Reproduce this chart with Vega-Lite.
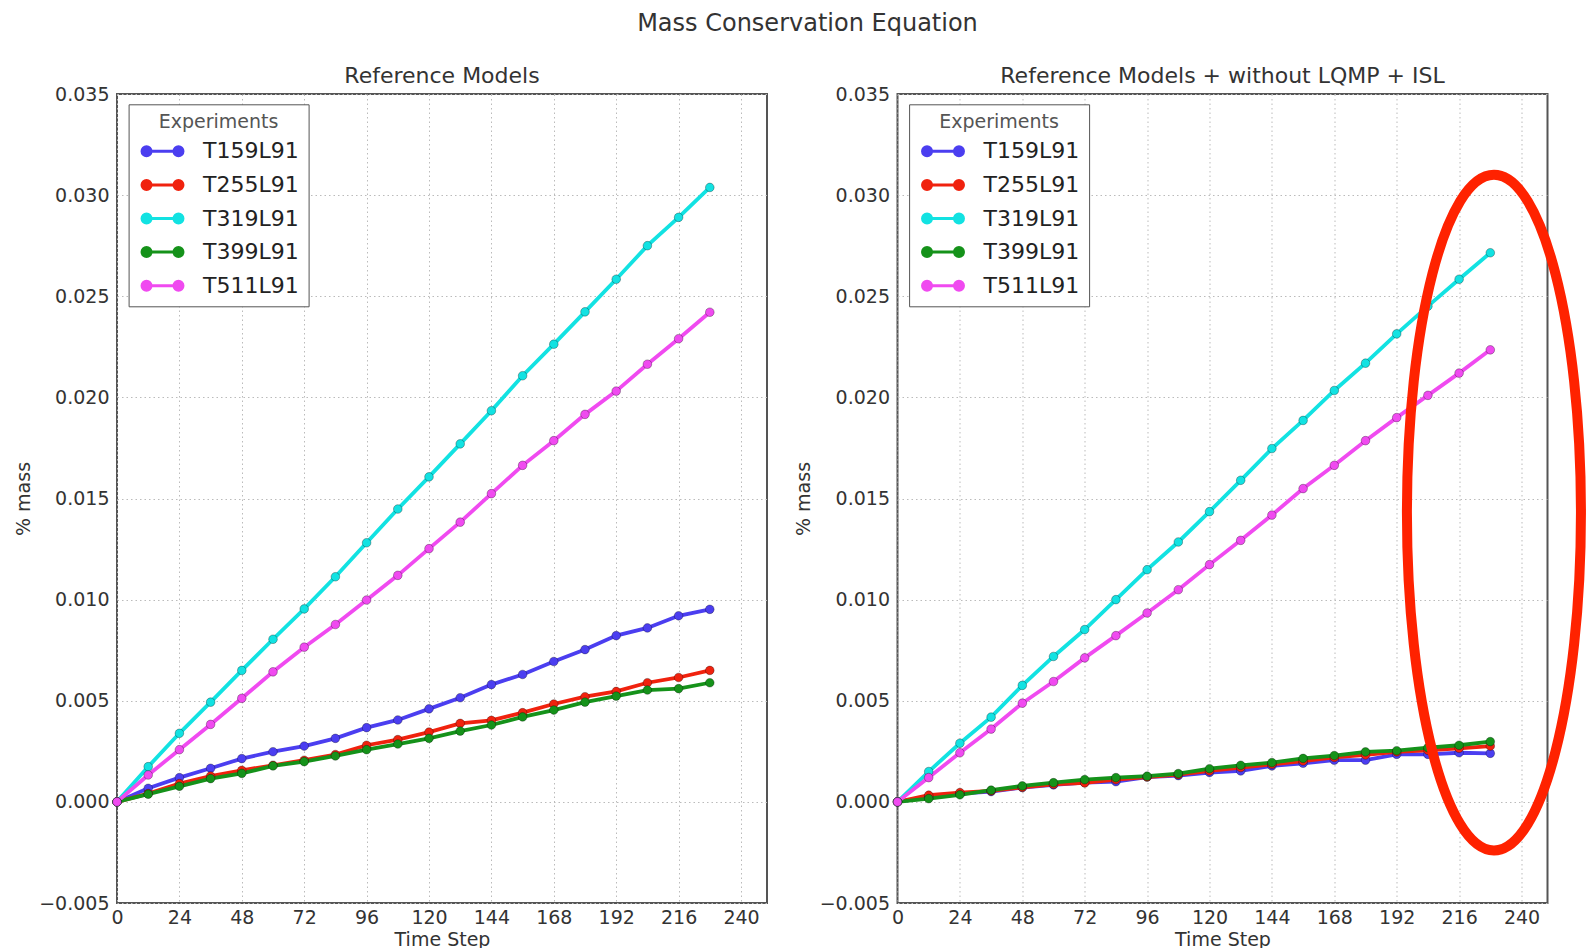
{
  "$schema": "https://vega.github.io/schema/vega-lite/v6.json",
  "background": "white",
  "padding": {"left": 13, "top": 12, "right": 0, "bottom": 0},
  "title": {"text": "Mass Conservation Equation", "fontSize": 24, "anchor": "middle", "offset": 28},
  "datasets": {
    "series": [
      {"panel":"A","exp":"T159L91","step":0,"mass":0},{"panel":"A","exp":"T159L91","step":12,"mass":0.00067},{"panel":"A","exp":"T159L91","step":24,"mass":0.0012},{"panel":"A","exp":"T159L91","step":36,"mass":0.00166},{"panel":"A","exp":"T159L91","step":48,"mass":0.00214},{"panel":"A","exp":"T159L91","step":60,"mass":0.00248},{"panel":"A","exp":"T159L91","step":72,"mass":0.00276},{"panel":"A","exp":"T159L91","step":84,"mass":0.00314},{"panel":"A","exp":"T159L91","step":96,"mass":0.00367},{"panel":"A","exp":"T159L91","step":108,"mass":0.00405},{"panel":"A","exp":"T159L91","step":120,"mass":0.0046},{"panel":"A","exp":"T159L91","step":132,"mass":0.00515},{"panel":"A","exp":"T159L91","step":144,"mass":0.0058},{"panel":"A","exp":"T159L91","step":156,"mass":0.0063},{"panel":"A","exp":"T159L91","step":168,"mass":0.00694},{"panel":"A","exp":"T159L91","step":180,"mass":0.00753},{"panel":"A","exp":"T159L91","step":192,"mass":0.00822},{"panel":"A","exp":"T159L91","step":204,"mass":0.0086},{"panel":"A","exp":"T159L91","step":216,"mass":0.0092},{"panel":"A","exp":"T159L91","step":228,"mass":0.00952},
      {"panel":"A","exp":"T255L91","step":0,"mass":0},{"panel":"A","exp":"T255L91","step":12,"mass":0.00041},{"panel":"A","exp":"T255L91","step":24,"mass":0.0009},{"panel":"A","exp":"T255L91","step":36,"mass":0.00128},{"panel":"A","exp":"T255L91","step":48,"mass":0.00156},{"panel":"A","exp":"T255L91","step":60,"mass":0.00181},{"panel":"A","exp":"T255L91","step":72,"mass":0.00206},{"panel":"A","exp":"T255L91","step":84,"mass":0.00234},{"panel":"A","exp":"T255L91","step":96,"mass":0.0028},{"panel":"A","exp":"T255L91","step":108,"mass":0.00308},{"panel":"A","exp":"T255L91","step":120,"mass":0.00345},{"panel":"A","exp":"T255L91","step":132,"mass":0.00388},{"panel":"A","exp":"T255L91","step":144,"mass":0.00403},{"panel":"A","exp":"T255L91","step":156,"mass":0.00441},{"panel":"A","exp":"T255L91","step":168,"mass":0.00484},{"panel":"A","exp":"T255L91","step":180,"mass":0.0052},{"panel":"A","exp":"T255L91","step":192,"mass":0.00546},{"panel":"A","exp":"T255L91","step":204,"mass":0.00589},{"panel":"A","exp":"T255L91","step":216,"mass":0.00615},{"panel":"A","exp":"T255L91","step":228,"mass":0.0065},
      {"panel":"A","exp":"T319L91","step":0,"mass":0},{"panel":"A","exp":"T319L91","step":12,"mass":0.00174},{"panel":"A","exp":"T319L91","step":24,"mass":0.00339},{"panel":"A","exp":"T319L91","step":36,"mass":0.00493},{"panel":"A","exp":"T319L91","step":48,"mass":0.0065},{"panel":"A","exp":"T319L91","step":60,"mass":0.00804},{"panel":"A","exp":"T319L91","step":72,"mass":0.00954},{"panel":"A","exp":"T319L91","step":84,"mass":0.01113},{"panel":"A","exp":"T319L91","step":96,"mass":0.01281},{"panel":"A","exp":"T319L91","step":108,"mass":0.01448},{"panel":"A","exp":"T319L91","step":120,"mass":0.01607},{"panel":"A","exp":"T319L91","step":132,"mass":0.0177},{"panel":"A","exp":"T319L91","step":144,"mass":0.01934},{"panel":"A","exp":"T319L91","step":156,"mass":0.02107},{"panel":"A","exp":"T319L91","step":168,"mass":0.02263},{"panel":"A","exp":"T319L91","step":180,"mass":0.02423},{"panel":"A","exp":"T319L91","step":192,"mass":0.02584},{"panel":"A","exp":"T319L91","step":204,"mass":0.0275},{"panel":"A","exp":"T319L91","step":216,"mass":0.0289},{"panel":"A","exp":"T319L91","step":228,"mass":0.03038},
      {"panel":"A","exp":"T399L91","step":0,"mass":0},{"panel":"A","exp":"T399L91","step":12,"mass":0.00038},{"panel":"A","exp":"T399L91","step":24,"mass":0.00077},{"panel":"A","exp":"T399L91","step":36,"mass":0.00115},{"panel":"A","exp":"T399L91","step":48,"mass":0.00141},{"panel":"A","exp":"T399L91","step":60,"mass":0.00178},{"panel":"A","exp":"T399L91","step":72,"mass":0.00199},{"panel":"A","exp":"T399L91","step":84,"mass":0.00227},{"panel":"A","exp":"T399L91","step":96,"mass":0.00258},{"panel":"A","exp":"T399L91","step":108,"mass":0.00286},{"panel":"A","exp":"T399L91","step":120,"mass":0.00314},{"panel":"A","exp":"T399L91","step":132,"mass":0.0035},{"panel":"A","exp":"T399L91","step":144,"mass":0.0038},{"panel":"A","exp":"T399L91","step":156,"mass":0.0042},{"panel":"A","exp":"T399L91","step":168,"mass":0.00454},{"panel":"A","exp":"T399L91","step":180,"mass":0.00493},{"panel":"A","exp":"T399L91","step":192,"mass":0.00523},{"panel":"A","exp":"T399L91","step":204,"mass":0.00553},{"panel":"A","exp":"T399L91","step":216,"mass":0.0056},{"panel":"A","exp":"T399L91","step":228,"mass":0.00589},
      {"panel":"A","exp":"T511L91","step":0,"mass":0},{"panel":"A","exp":"T511L91","step":12,"mass":0.00133},{"panel":"A","exp":"T511L91","step":24,"mass":0.00258},{"panel":"A","exp":"T511L91","step":36,"mass":0.00383},{"panel":"A","exp":"T511L91","step":48,"mass":0.00512},{"panel":"A","exp":"T511L91","step":60,"mass":0.00643},{"panel":"A","exp":"T511L91","step":72,"mass":0.00765},{"panel":"A","exp":"T511L91","step":84,"mass":0.00877},{"panel":"A","exp":"T511L91","step":96,"mass":0.00998},{"panel":"A","exp":"T511L91","step":108,"mass":0.0112},{"panel":"A","exp":"T511L91","step":120,"mass":0.01252},{"panel":"A","exp":"T511L91","step":132,"mass":0.01383},{"panel":"A","exp":"T511L91","step":144,"mass":0.01524},{"panel":"A","exp":"T511L91","step":156,"mass":0.01664},{"panel":"A","exp":"T511L91","step":168,"mass":0.01786},{"panel":"A","exp":"T511L91","step":180,"mass":0.01916},{"panel":"A","exp":"T511L91","step":192,"mass":0.02031},{"panel":"A","exp":"T511L91","step":204,"mass":0.02164},{"panel":"A","exp":"T511L91","step":216,"mass":0.0229},{"panel":"A","exp":"T511L91","step":228,"mass":0.02421},
      {"panel":"B","exp":"T159L91","step":0,"mass":0},{"panel":"B","exp":"T159L91","step":12,"mass":0.00023},{"panel":"B","exp":"T159L91","step":24,"mass":0.00041},{"panel":"B","exp":"T159L91","step":36,"mass":0.00051},{"panel":"B","exp":"T159L91","step":48,"mass":0.00071},{"panel":"B","exp":"T159L91","step":60,"mass":0.00084},{"panel":"B","exp":"T159L91","step":72,"mass":0.00095},{"panel":"B","exp":"T159L91","step":84,"mass":0.001},{"panel":"B","exp":"T159L91","step":96,"mass":0.00123},{"panel":"B","exp":"T159L91","step":108,"mass":0.0013},{"panel":"B","exp":"T159L91","step":120,"mass":0.00145},{"panel":"B","exp":"T159L91","step":132,"mass":0.00153},{"panel":"B","exp":"T159L91","step":144,"mass":0.00178},{"panel":"B","exp":"T159L91","step":156,"mass":0.00191},{"panel":"B","exp":"T159L91","step":168,"mass":0.00206},{"panel":"B","exp":"T159L91","step":180,"mass":0.00206},{"panel":"B","exp":"T159L91","step":192,"mass":0.00235},{"panel":"B","exp":"T159L91","step":204,"mass":0.00235},{"panel":"B","exp":"T159L91","step":216,"mass":0.00243},{"panel":"B","exp":"T159L91","step":228,"mass":0.0024},
      {"panel":"B","exp":"T255L91","step":0,"mass":0},{"panel":"B","exp":"T255L91","step":12,"mass":0.00033},{"panel":"B","exp":"T255L91","step":24,"mass":0.00046},{"panel":"B","exp":"T255L91","step":36,"mass":0.00054},{"panel":"B","exp":"T255L91","step":48,"mass":0.00072},{"panel":"B","exp":"T255L91","step":60,"mass":0.00087},{"panel":"B","exp":"T255L91","step":72,"mass":0.00094},{"panel":"B","exp":"T255L91","step":84,"mass":0.0011},{"panel":"B","exp":"T255L91","step":96,"mass":0.00123},{"panel":"B","exp":"T255L91","step":108,"mass":0.00135},{"panel":"B","exp":"T255L91","step":120,"mass":0.00153},{"panel":"B","exp":"T255L91","step":132,"mass":0.0017},{"panel":"B","exp":"T255L91","step":144,"mass":0.00186},{"panel":"B","exp":"T255L91","step":156,"mass":0.00202},{"panel":"B","exp":"T255L91","step":168,"mass":0.0022},{"panel":"B","exp":"T255L91","step":180,"mass":0.00232},{"panel":"B","exp":"T255L91","step":192,"mass":0.00247},{"panel":"B","exp":"T255L91","step":204,"mass":0.00255},{"panel":"B","exp":"T255L91","step":216,"mass":0.00265},{"panel":"B","exp":"T255L91","step":228,"mass":0.00276},
      {"panel":"B","exp":"T319L91","step":0,"mass":0},{"panel":"B","exp":"T319L91","step":12,"mass":0.0015},{"panel":"B","exp":"T319L91","step":24,"mass":0.0029},{"panel":"B","exp":"T319L91","step":36,"mass":0.00419},{"panel":"B","exp":"T319L91","step":48,"mass":0.00576},{"panel":"B","exp":"T319L91","step":60,"mass":0.00719},{"panel":"B","exp":"T319L91","step":72,"mass":0.00852},{"panel":"B","exp":"T319L91","step":84,"mass":0.01},{"panel":"B","exp":"T319L91","step":96,"mass":0.01148},{"panel":"B","exp":"T319L91","step":108,"mass":0.01285},{"panel":"B","exp":"T319L91","step":120,"mass":0.01435},{"panel":"B","exp":"T319L91","step":132,"mass":0.0159},{"panel":"B","exp":"T319L91","step":144,"mass":0.01747},{"panel":"B","exp":"T319L91","step":156,"mass":0.01886},{"panel":"B","exp":"T319L91","step":168,"mass":0.02034},{"panel":"B","exp":"T319L91","step":180,"mass":0.02169},{"panel":"B","exp":"T319L91","step":192,"mass":0.02314},{"panel":"B","exp":"T319L91","step":204,"mass":0.02451},{"panel":"B","exp":"T319L91","step":216,"mass":0.02584},{"panel":"B","exp":"T319L91","step":228,"mass":0.02715},
      {"panel":"B","exp":"T399L91","step":0,"mass":0},{"panel":"B","exp":"T399L91","step":12,"mass":0.00016},{"panel":"B","exp":"T399L91","step":24,"mass":0.00035},{"panel":"B","exp":"T399L91","step":36,"mass":0.00058},{"panel":"B","exp":"T399L91","step":48,"mass":0.00079},{"panel":"B","exp":"T399L91","step":60,"mass":0.00095},{"panel":"B","exp":"T399L91","step":72,"mass":0.0011},{"panel":"B","exp":"T399L91","step":84,"mass":0.0012},{"panel":"B","exp":"T399L91","step":96,"mass":0.00127},{"panel":"B","exp":"T399L91","step":108,"mass":0.0014},{"panel":"B","exp":"T399L91","step":120,"mass":0.00164},{"panel":"B","exp":"T399L91","step":132,"mass":0.00181},{"panel":"B","exp":"T399L91","step":144,"mass":0.00194},{"panel":"B","exp":"T399L91","step":156,"mass":0.00215},{"panel":"B","exp":"T399L91","step":168,"mass":0.00229},{"panel":"B","exp":"T399L91","step":180,"mass":0.00247},{"panel":"B","exp":"T399L91","step":192,"mass":0.00253},{"panel":"B","exp":"T399L91","step":204,"mass":0.00268},{"panel":"B","exp":"T399L91","step":216,"mass":0.0028},{"panel":"B","exp":"T399L91","step":228,"mass":0.00298},
      {"panel":"B","exp":"T511L91","step":0,"mass":0},{"panel":"B","exp":"T511L91","step":12,"mass":0.0012},{"panel":"B","exp":"T511L91","step":24,"mass":0.00243},{"panel":"B","exp":"T511L91","step":36,"mass":0.0036},{"panel":"B","exp":"T511L91","step":48,"mass":0.00488},{"panel":"B","exp":"T511L91","step":60,"mass":0.00595},{"panel":"B","exp":"T511L91","step":72,"mass":0.00712},{"panel":"B","exp":"T511L91","step":84,"mass":0.00822},{"panel":"B","exp":"T511L91","step":96,"mass":0.00934},{"panel":"B","exp":"T511L91","step":108,"mass":0.01049},{"panel":"B","exp":"T511L91","step":120,"mass":0.01173},{"panel":"B","exp":"T511L91","step":132,"mass":0.01293},{"panel":"B","exp":"T511L91","step":144,"mass":0.01418},{"panel":"B","exp":"T511L91","step":156,"mass":0.01549},{"panel":"B","exp":"T511L91","step":168,"mass":0.01664},{"panel":"B","exp":"T511L91","step":180,"mass":0.01786},{"panel":"B","exp":"T511L91","step":192,"mass":0.019},{"panel":"B","exp":"T511L91","step":204,"mass":0.0201},{"panel":"B","exp":"T511L91","step":216,"mass":0.0212},{"panel":"B","exp":"T511L91","step":228,"mass":0.02235}
    ],
    "annot": [{"step": 229.4, "mass": 0.0143}]
  },
  "spacing": 25.5,
  "resolve": {"scale": {"color": "independent", "x": "independent", "y": "independent"}, "legend": {"color": "independent"}},
  "hconcat": [
    {
      "width": 650, "height": 809,
      "title": {"text": "Reference Models", "fontSize": 22, "offset": -3},
      "layer": [
        {
          "data": {"name": "series"},
          "transform": [{"filter": "datum.panel === 'A'"}],
          "mark": {"type": "line", "strokeWidth": 3.8},
          "encoding": {
            "x": {"field": "step", "type": "quantitative", "scale": {"domain": [0, 250], "nice": false, "zero": false}, "axis": {"title": "Time Step", "values": [0,24,48,72,96,120,144,168,192,216,240], "labelPadding": 5, "titlePadding": 3, "labelFlush": false, "labelOverlap": false}},
            "y": {"field": "mass", "type": "quantitative", "scale": {"domain": [-0.005, 0.035], "nice": false, "zero": false}, "axis": {"title": "% mass", "values": [-0.005,0,0.005,0.01,0.015,0.02,0.025,0.03,0.035], "format": ".3f", "labelPadding": 8, "titlePadding": 21, "minExtent": 63, "maxExtent": 63, "labelFlush": false, "labelOverlap": false}},
            "color": {"field": "exp", "type": "nominal", "scale": {"domain": ["T159L91","T255L91","T319L91","T399L91","T511L91"], "range": ["#4b3ef0","#f0220e","#12e2e2","#15921a","#f04af0"]},
              "legend": {"title": "Experiments", "orient": "none", "legendX": 11.6, "legendY": 10.3, "padding": 9, "strokeColor": "#555", "fillColor": "white", "titleFontSize": 19, "titleColor": "#555", "titleFontWeight": "normal", "titleAnchor": "middle", "titlePadding": 8, "labelFontSize": 22, "labelColor": "#222", "labelOffset": 43.4, "rowPadding": 11.6, "symbolSize": 324, "symbolStrokeWidth": 3, "symbolOffset": 0,
                "symbolType": "M-0.73,0H3.82M-0.73,0A0.5,0.5,0,1,0,0.27,0A0.5,0.5,0,1,0,-0.73,0M2.82,0A0.5,0.5,0,1,0,3.82,0A0.5,0.5,0,1,0,2.82,0",
                "encode": {"symbols": {"update": {"fill": {"signal": "{'T159L91':'#4b3ef0','T255L91':'#f0220e','T319L91':'#12e2e2','T399L91':'#15921a','T511L91':'#f04af0'}[datum.value]"}, "stroke": {"signal": "{'T159L91':'#4b3ef0','T255L91':'#f0220e','T319L91':'#12e2e2','T399L91':'#15921a','T511L91':'#f04af0'}[datum.value]"}, "opacity": {"value": 1}}}}}
            }
          }
        },
        {
          "data": {"name": "series"},
          "transform": [{"filter": "datum.panel === 'A'"}],
          "mark": {"type": "point", "filled": true, "size": 75, "opacity": 1, "stroke": "#000", "strokeOpacity": 0.3, "strokeWidth": 1},
          "encoding": {
            "x": {"field": "step", "type": "quantitative", "scale": {"domain": [0, 250], "nice": false, "zero": false}},
            "y": {"field": "mass", "type": "quantitative", "scale": {"domain": [-0.005, 0.035], "nice": false, "zero": false}},
            "color": {"field": "exp", "type": "nominal", "legend": null}
          }
        }
      ]
    },
    {
      "width": 650, "height": 809,
      "title": {"text": "Reference Models + without LQMP + ISL", "fontSize": 22, "offset": -3},
      "layer": [
        {
          "data": {"name": "series"},
          "transform": [{"filter": "datum.panel === 'B'"}],
          "mark": {"type": "line", "strokeWidth": 3.8},
          "encoding": {
            "x": {"field": "step", "type": "quantitative", "scale": {"domain": [0, 250], "nice": false, "zero": false}, "axis": {"title": "Time Step", "values": [0,24,48,72,96,120,144,168,192,216,240], "labelPadding": 5, "titlePadding": 3, "labelFlush": false, "labelOverlap": false}},
            "y": {"field": "mass", "type": "quantitative", "scale": {"domain": [-0.005, 0.035], "nice": false, "zero": false}, "axis": {"title": "% mass", "values": [-0.005,0,0.005,0.01,0.015,0.02,0.025,0.03,0.035], "format": ".3f", "labelPadding": 8, "titlePadding": 21, "minExtent": 63, "maxExtent": 63, "labelFlush": false, "labelOverlap": false}},
            "color": {"field": "exp", "type": "nominal", "scale": {"domain": ["T159L91","T255L91","T319L91","T399L91","T511L91"], "range": ["#4b3ef0","#f0220e","#12e2e2","#15921a","#f04af0"]},
              "legend": {"title": "Experiments", "orient": "none", "legendX": 11.6, "legendY": 10.3, "padding": 9, "strokeColor": "#555", "fillColor": "white", "titleFontSize": 19, "titleColor": "#555", "titleFontWeight": "normal", "titleAnchor": "middle", "titlePadding": 8, "labelFontSize": 22, "labelColor": "#222", "labelOffset": 43.4, "rowPadding": 11.6, "symbolSize": 324, "symbolStrokeWidth": 3, "symbolOffset": 0,
                "symbolType": "M-0.73,0H3.82M-0.73,0A0.5,0.5,0,1,0,0.27,0A0.5,0.5,0,1,0,-0.73,0M2.82,0A0.5,0.5,0,1,0,3.82,0A0.5,0.5,0,1,0,2.82,0",
                "encode": {"symbols": {"update": {"fill": {"signal": "{'T159L91':'#4b3ef0','T255L91':'#f0220e','T319L91':'#12e2e2','T399L91':'#15921a','T511L91':'#f04af0'}[datum.value]"}, "stroke": {"signal": "{'T159L91':'#4b3ef0','T255L91':'#f0220e','T319L91':'#12e2e2','T399L91':'#15921a','T511L91':'#f04af0'}[datum.value]"}, "opacity": {"value": 1}}}}}
            }
          }
        },
        {
          "data": {"name": "series"},
          "transform": [{"filter": "datum.panel === 'B'"}],
          "mark": {"type": "point", "filled": true, "size": 75, "opacity": 1, "stroke": "#000", "strokeOpacity": 0.3, "strokeWidth": 1},
          "encoding": {
            "x": {"field": "step", "type": "quantitative", "scale": {"domain": [0, 250], "nice": false, "zero": false}},
            "y": {"field": "mass", "type": "quantitative", "scale": {"domain": [-0.005, 0.035], "nice": false, "zero": false}},
            "color": {"field": "exp", "type": "nominal", "legend": null}
          }
        },
        {
          "data": {"name": "annot"},
          "mark": {"type": "point", "filled": false, "shape": "M-0.2576,0A0.2576,1,0,1,1,0.2576,0A0.2576,1,0,1,1,-0.2576,0Z", "size": 456435, "stroke": "#ff2200", "strokeWidth": 10, "opacity": 1},
          "encoding": {
            "x": {"field": "step", "type": "quantitative", "scale": {"domain": [0, 250], "nice": false, "zero": false}},
            "y": {"field": "mass", "type": "quantitative", "scale": {"domain": [-0.005, 0.035], "nice": false, "zero": false}}
          }
        }
      ]
    }
  ],
  "config": {
    "font": "DejaVu Sans",
    "title": {"font": "DejaVu Sans", "fontWeight": "normal", "color": "#333"},
    "axis": {"labelFont": "DejaVu Sans", "titleFont": "DejaVu Sans", "labelFontSize": 19, "titleFontSize": 19, "labelColor": "#333", "titleColor": "#333", "titleFontWeight": "normal", "domain": false, "ticks": false, "grid": true, "gridColor": "#bbbbbb", "gridDash": [1.5, 3], "gridWidth": 1, "gridOpacity": 1},
    "legend": {"labelFont": "DejaVu Sans", "titleFont": "DejaVu Sans"},
    "view": {"stroke": "#555555", "strokeWidth": 2}
  }
}
